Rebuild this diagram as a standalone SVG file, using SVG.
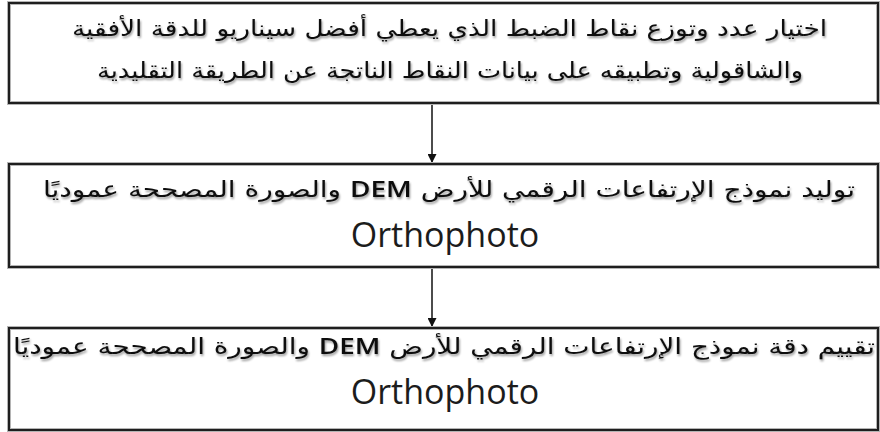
<svg xmlns="http://www.w3.org/2000/svg" width="880" height="432" viewBox="0 0 880 432">
  <defs>
    <style>
      .halo { fill: #ffffff; stroke: #b4b4b4; stroke-width: 4; }
      .box { fill: none; stroke: #1e1e1e; stroke-width: 2; }
      .ar { font-family: "DejaVu Sans", "Noto Sans", sans-serif; font-size: 22px; fill: #111111; text-anchor: middle; direction: rtl; }
      .lat { font-family: "Open Sans", "Liberation Sans", sans-serif; font-size: 34px; fill: #1c1c1c; text-anchor: middle; }
      .dem { font-family: "Open Sans", "Liberation Sans", sans-serif; font-weight: 600; }
      .conn { stroke: #111111; stroke-width: 1.5; fill: none; }
    </style>
    <filter id="ts" x="-5%" y="-30%" width="110%" height="160%">
      <feGaussianBlur in="SourceAlpha" stdDeviation="0.9"/>
      <feOffset dx="1.2" dy="1.8" result="b"/>
      <feComponentTransfer><feFuncA type="linear" slope="0.4"/></feComponentTransfer>
      <feMerge><feMergeNode/><feMergeNode in="SourceGraphic"/></feMerge>
    </filter>
    <marker id="arrow" viewBox="0 0 10 10" refX="10" refY="5" markerWidth="9" markerHeight="9" markerUnits="userSpaceOnUse" orient="auto">
      <path d="M0,0 L10,5 L0,10 Z" fill="#111111"/>
    </marker>
  </defs>

  <g id="connectors">
    <line class="conn" x1="432" y1="104" x2="432" y2="163" marker-end="url(#arrow)"/>
    <line class="conn" x1="432" y1="268" x2="432" y2="327" marker-end="url(#arrow)"/>
  </g>

  <g id="node1">
    <rect class="halo" x="9" y="3" width="869" height="100"/>
    <rect class="box" x="9" y="3" width="869" height="100"/>
    <g filter="url(#ts)">
      <text class="ar" x="449.5" y="36" textLength="755" lengthAdjust="spacingAndGlyphs">اختيار عدد وتوزع نقاط الضبط الذي يعطي أفضل سيناريو للدقة الأفقية</text>
      <text class="ar" x="450" y="78" textLength="706" lengthAdjust="spacingAndGlyphs">والشاقولية وتطبيقه على بيانات النقاط الناتجة عن الطريقة التقليدية</text>
    </g>
  </g>

  <g id="node2">
    <rect class="halo" x="9" y="164" width="869" height="103"/>
    <rect class="box" x="9" y="164" width="869" height="103"/>
    <g filter="url(#ts)">
      <text class="ar" x="449" y="197" textLength="812" lengthAdjust="spacingAndGlyphs">توليد نموذج الإرتفاعات الرقمي للأرض <tspan class="dem">DEM</tspan> والصورة المصححة عموديًا</text>
    </g>
    <text class="lat" x="445" y="247">Orthophoto</text>
  </g>

  <g id="node3">
    <rect class="halo" x="9" y="328" width="869" height="102"/>
    <rect class="box" x="9" y="328" width="869" height="102"/>
    <g filter="url(#ts)">
      <text class="ar" x="444" y="354" textLength="862" lengthAdjust="spacingAndGlyphs">تقييم دقة نموذج الإرتفاعات الرقمي للأرض <tspan class="dem">DEM</tspan> والصورة المصححة عموديًا</text>
    </g>
    <text class="lat" x="445" y="404">Orthophoto</text>
  </g>
</svg>
